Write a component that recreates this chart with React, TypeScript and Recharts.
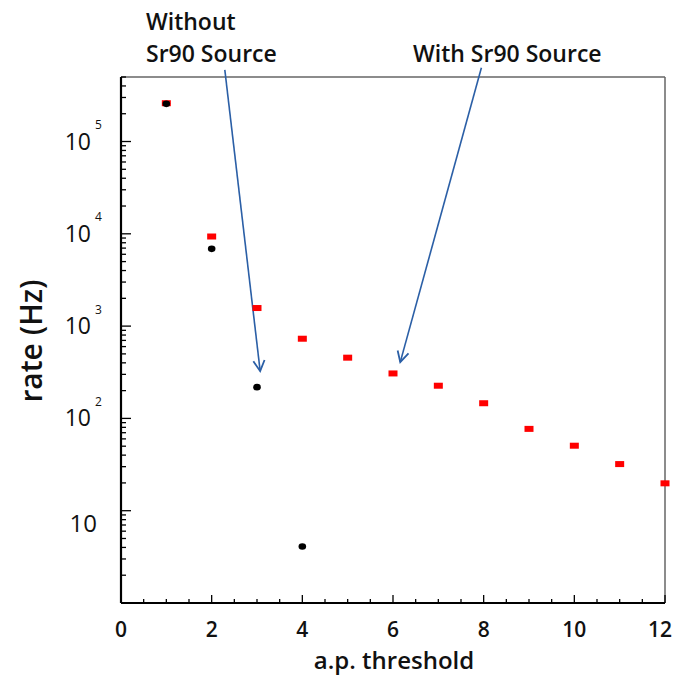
import { ScatterChart, Scatter, XAxis, YAxis, ReferenceLine } from 'recharts';

const thresholds = [1, 2, 3, 4, 5, 6, 7, 8, 9, 10, 11, 12];
const withoutSourceRates = [256000, 6870, 218, 4.1];
const withSourceRates = [260000, 9350, 1570, 730, 455, 307, 226, 146, 77, 50.6, 32, 19.8];

const xTicks = [0, 0.5, 1, 1.5, 2, 2.5, 3, 3.5, 4, 4.5, 5, 5.5, 6, 6.5, 7, 7.5, 8, 8.5, 9, 9.5, 10, 10.5, 11, 11.5, 12];
const yMajor = [10, 100, 1000, 10000, 100000];
const yMinorFactors = [2, 3, 4, 5, 6, 7, 8, 9];

// annotation arrows, in data coordinates: [from, to]
const arrowWithout = [
  { x: 2.29, y: 598000 },
  { x: 3.07, y: 325 },
];
const arrowWith = [
  { x: 7.95, y: 629000 },
  { x: 6.16, y: 407 },
];

const yTicks = [1, 10, 100, 1000, 10000, 100000].flatMap((d) =>
  [d, ...yMinorFactors.map((f) => d * f)].filter((v) => v <= 500000 && v >= 1)
);

const withoutData = withoutSourceRates.map((y, i) => ({ x: thresholds[i], y }));
const withData = withSourceRates.map((y, i) => ({ x: thresholds[i], y }));

const FONT = '"Open Sans", sans-serif';
const BLUE = '#2b5fa6';

// eslint-disable-next-line @typescript-eslint/no-explicit-any
const RedSquare = (props: any) => (
  <rect x={props.cx - 4.5} y={props.cy - 3} width={9} height={6} fill="#ff0000" />
);

// eslint-disable-next-line @typescript-eslint/no-explicit-any
const BlackDot = (props: any) => <ellipse cx={props.cx} cy={props.cy} rx={3.8} ry={3.3} fill="#000" />;

// eslint-disable-next-line @typescript-eslint/no-explicit-any
const YTick = (props: any) => {
  const { x, y, payload } = props;
  const v = payload.value;
  const k = Math.round(Math.log10(v));
  const major = yMajor.includes(v);
  return (
    <g>
      <line x1={x} y1={y} x2={x + (major ? 10 : 5)} y2={y} stroke="#000" strokeWidth={1.3} />
      {major && k === 1 && (
        <text x={x - 24} y={y + 12} textAnchor="end" dominantBaseline="central" fontFamily={FONT} fontSize={24} fill="#111">
          10
        </text>
      )}
      {major && k > 1 && (
        <>
          <text x={x - 30} y={y - 1} textAnchor="end" dominantBaseline="central" fontFamily={FONT} fontSize={23} fill="#111">
            10
          </text>
          <text x={x - 26} y={y - 17} textAnchor="start" dominantBaseline="central" fontFamily={FONT} fontSize={12} fill="#111">
            {k}
          </text>
        </>
      )}
    </g>
  );
};

// eslint-disable-next-line @typescript-eslint/no-explicit-any
const XTick = (props: any) => {
  const { x, y, payload } = props;
  const v = payload.value;
  const major = v % 2 === 0;
  const last = v === 12;
  return (
    <g>
      <line x1={x} y1={y} x2={x} y2={y - (major ? 8 : 4)} stroke="#000" strokeWidth={1.3} />
      {major && (
        <text
          x={last ? x + 7 : x}
          y={y + 26}
          textAnchor={last ? 'end' : 'middle'}
          dominantBaseline="central"
          fontFamily={FONT}
          fontWeight={600}
          fontSize={21}
          fill="#111"
        >
          {v}
        </text>
      )}
    </g>
  );
};

// eslint-disable-next-line @typescript-eslint/no-explicit-any
const Arrow = (props: any) => {
  const { x1, y1, x2, y2 } = props;
  const ang = Math.atan2(y2 - y1, x2 - x1);
  const len = 12;
  const spread = (28 * Math.PI) / 180;
  const a1 = ang + Math.PI - spread;
  const a2 = ang + Math.PI + spread;
  return (
    <g>
      <line x1={x1} y1={y1} x2={x2} y2={y2} stroke={BLUE} strokeWidth={1.6} />
      <polyline
        points={`${x2 + len * Math.cos(a1)},${y2 + len * Math.sin(a1)} ${x2},${y2} ${x2 + len * Math.cos(a2)},${y2 + len * Math.sin(a2)}`}
        fill="none"
        stroke={BLUE}
        strokeWidth={1.8}
      />
    </g>
  );
};

export default function App() {
  return (
    <div style={{ position: 'absolute', left: 0, top: 0, width: 675, height: 676, background: '#fff' }}>
      <ScatterChart width={675} height={676} margin={{ top: 77, right: 10, bottom: 0, left: 0 }}>
        <XAxis
          type="number"
          dataKey="x"
          domain={[0, 12]}
          ticks={xTicks}
          interval={0}
          height={73}
          tickSize={0}
          tickMargin={0}
          tickLine={false}
          tick={<XTick />}
          axisLine={{ stroke: '#000', strokeWidth: 2.2 }}
        />
        <YAxis
          type="number"
          dataKey="y"
          scale="log"
          domain={[1, 500000]}
          allowDataOverflow
          ticks={yTicks}
          interval={0}
          width={121}
          tickSize={0}
          tickMargin={0}
          tickLine={false}
          tick={<YTick />}
          axisLine={{ stroke: '#000', strokeWidth: 2.2 }}
        />
        <ReferenceLine y={500000} stroke="#666" strokeWidth={1.5} />
        <ReferenceLine x={12} stroke="#666" strokeWidth={1.5} />
        <Scatter data={withData} shape={<RedSquare />} isAnimationActive={false} />
        <Scatter data={withoutData} shape={<BlackDot />} isAnimationActive={false} />
        <ReferenceLine segment={arrowWithout} ifOverflow="visible" shape={Arrow} />
        <ReferenceLine segment={arrowWith} ifOverflow="visible" shape={Arrow} />
      </ScatterChart>
      <svg width={675} height={676} style={{ position: 'absolute', left: 0, top: 0, pointerEvents: 'none' }}>
        <g fontFamily={FONT} fontWeight={600} fill="#111">
          <text x={146} y={30} fontSize={23}>Without</text>
          <text x={146} y={62} fontSize={23}>Sr90 Source</text>
          <text x={413} y={62} fontSize={23}>With Sr90 Source</text>
          <text x={42} y={341} fontSize={30} textAnchor="middle" transform="rotate(-90 42 341)">
            rate (Hz)
          </text>
          <text x={394} y={669} fontSize={24} fontWeight={600} textAnchor="middle">
            a.p. threshold
          </text>
        </g>
      </svg>
    </div>
  );
}
